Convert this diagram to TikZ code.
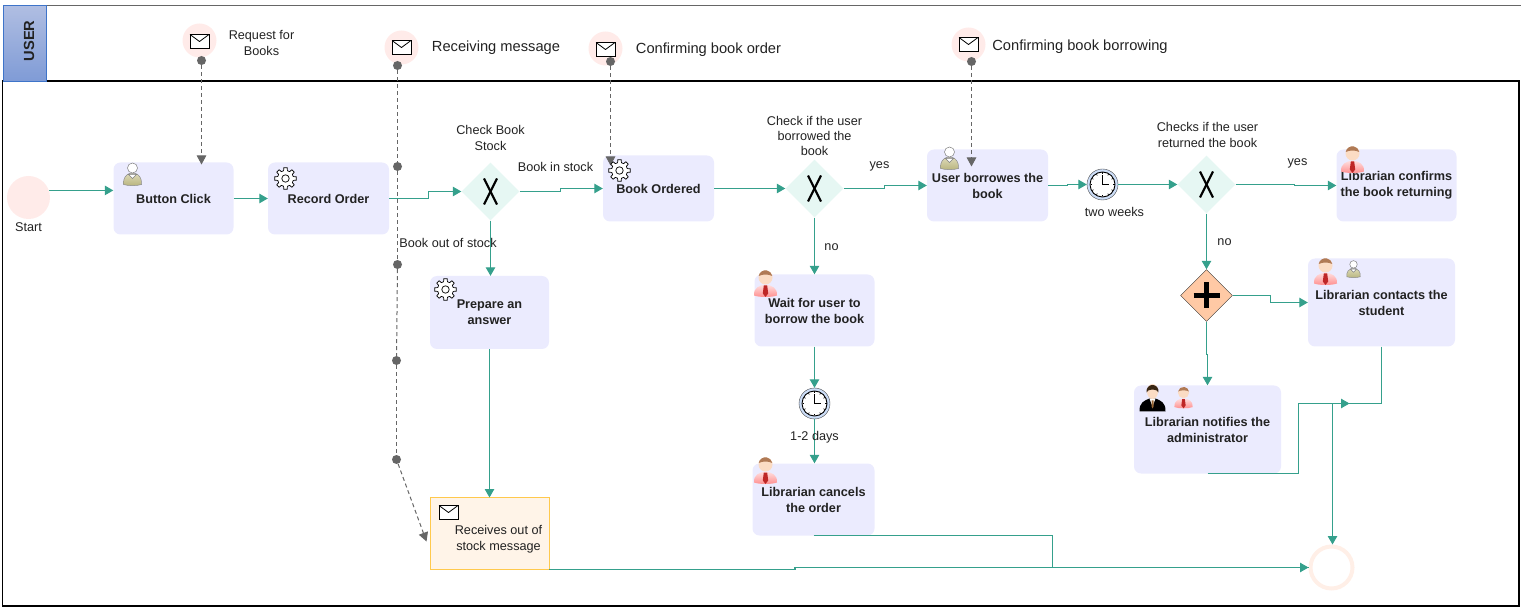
\documentclass[tikz,border=0pt]{standalone}
\usepackage{fontspec}
\setmainfont{Liberation Sans}
\usetikzlibrary{arrows.meta}
\usetikzlibrary{shapes.geometric}

\definecolor{flowc}{HTML}{35A08C}
\definecolor{msgc}{HTML}{666666}
\definecolor{taskc}{HTML}{EBEBFE}
\definecolor{eventc}{HTML}{FFEBE9}
\definecolor{gatec}{HTML}{E6F7F3}
\definecolor{plusc}{HTML}{FFC9A5}
\definecolor{textc}{HTML}{222222}
\definecolor{finishc}{HTML}{FFEFE7}
\definecolor{mailc}{HTML}{FFF4E8}
\definecolor{mailedge}{HTML}{FFC94D}
\definecolor{pooltop}{HTML}{B0BEE2}
\definecolor{poolbot}{HTML}{7F9BD6}
\definecolor{pooledge}{HTML}{3E74C9}
\definecolor{ringc}{HTML}{CCDDF7}
\definecolor{hairc}{HTML}{B07A55}
\definecolor{skinc}{HTML}{FBDCC4}
\definecolor{olivetop}{HTML}{DDDAB8}
\definecolor{olivebot}{HTML}{B8B47E}

\tikzset{
  task/.style={rectangle,fill=taskc,rounded corners=7pt,inner sep=0pt,align=center,text=textc,
    font=\fontsize{12.67}{16}\selectfont\bfseries},
  msgtask/.style={rectangle,draw=mailedge,fill=mailc,inner sep=0pt,outer sep=0pt,line width=0.9pt},
  gate/.style={diamond,fill=gatec,aspect=1,inner sep=0pt,minimum width=58pt,minimum height=58pt},
  plusgate/.style={diamond,draw=black!80,fill=plusc,aspect=1,inner sep=0pt,minimum width=52pt,minimum height=52pt},
  lbl/.style={align=center,inner sep=0pt,text=textc,font=\fontsize{12.67}{16}\selectfont},
  biglbl/.style={inner sep=0pt,text=textc,font=\fontsize{14.67}{18}\selectfont},
  evt/.style={circle,fill=eventc,inner sep=0pt,minimum size=34pt},
  dot/.style={circle,fill=msgc,inner sep=0pt,minimum size=9pt},
  timer/.style={circle,draw=black!70,fill=ringc,inner sep=0pt,minimum size=31pt},
  flow/.style={color=flowc,line width=1.1pt,-{Triangle[length=8.5pt,width=9.5pt]}},
  plainflow/.style={color=flowc,line width=1.1pt},
  msgflow/.style={color=msgc,line width=1pt,dash pattern=on 4pt off 3pt,
    -{Triangle[length=9pt,width=9.5pt]}},
  msgline/.style={color=msgc,line width=1pt,dash pattern=on 4pt off 3pt},
  mail/.pic={
    \draw [fill=white,line width=0.8pt] (-9.5,-7) rectangle (9.5,7);
    \draw [line width=0.8pt] (-9.5,-7) -- (0,0) -- (9.5,-7);
  },
  cog/.pic={
    \draw [fill=white,line width=0.7pt] (-9:10.8)
      \foreach \a in {0,45,...,315} { -- ({\a-9}:10.8) -- ({\a+9}:10.8) -- ({\a+14}:8) -- ({\a+31}:8) } -- cycle;
    \draw [fill=white,line width=0.7pt] (0,0) circle (3.7);
  },
  clockface/.pic={
    \draw [fill=white,line width=0.9pt] (0,0) circle (12.5);
    \foreach \a in {0,30,...,330} \draw [line width=0.6pt] (\a:12) -- (\a:10.5);
    \draw [line width=0.8pt] (0,-9) -- (0,0) -- (6,0);
  },
  usr/.pic={
    \draw [draw=black!45,top color=olivetop,bottom color=olivebot,line width=0.5pt]
      (-9,11) .. controls (-9.5,4) and (-6,1) .. (-3,0) -- (3,0) .. controls (6,1) and (9.5,4) .. (9,11) .. controls (4,12.5) and (-4,12.5) .. (-9,11) -- cycle;
    \draw [draw=black!50,fill=white,line width=0.5pt] (-4,1) -- (0,5) -- (4,1) -- cycle;
    \draw [draw=black!50,fill=white,line width=0.5pt] (0,-5.5) circle (5);
  },
  libr/.pic={
    \shade [top color=red!12,bottom color=red!45]
      (-11.5,12) .. controls (-12,4) and (-6,2) .. (0,1) .. controls (6,2) and (12,4) .. (11.5,12) .. controls (6,14) and (-6,14) .. (-11.5,12) -- cycle;
    \fill [red!70!black!85] (-1.7,2) -- (1.7,2) -- (2.7,10) -- (0,13.5) -- (-2.7,10) -- cycle;
    \fill [skinc] (0,-6) circle (7);
    \fill [hairc] (-6.8,-7.5) arc (190:350:6.9) .. controls (3,-9.5) and (-3,-9.5) .. (-6.8,-7.5) -- cycle;
  },
  boss/.pic={
    \fill [black] (-13,14) .. controls (-13.5,5) and (-8,3) .. (-3,1) -- (3,1) .. controls (8,3) and (13.5,5) .. (13,14) -- cycle;
    \fill [white] (-3,1) -- (0,9) -- (3,1) -- cycle;
    \fill [brown!80!black] (-1,3) -- (1,3) -- (1,9) -- (0,11) -- (-1,9) -- cycle;
    \fill [skinc] (0,-6) ellipse (5.5 and 7.5);
    \fill [black!70!brown] (-6,-5) .. controls (-7,-15) and (7,-15) .. (6,-5) .. controls (5,-9) and (-5,-9) .. (-6,-5) -- cycle;
  },
  xmark/.pic={
    \draw [line width=2.2pt] (-6.5,-13) -- (6.5,13);
    \draw [line width=2.2pt] (6.5,-13) -- (-6.5,13);
  },
  plusmark/.pic={
    \draw [line width=4.6pt] (-13,0) -- (13,0);
    \draw [line width=4.6pt] (0,-13) -- (0,13);
  }
}

\begin{document}
\begin{tikzpicture}[x=1pt,y=-1pt]

  \useasboundingbox (0,0) rectangle (1521,609);

  \draw [draw=black,line width=1.8pt] (2.5,81) rectangle (1519,606);
  \draw [draw=msgc,line width=0.8pt] (3,5.5) -- (1521,5.5);
  \node [rectangle,draw=pooledge,top color=pooltop,bottom color=poolbot,line width=0.8pt,
    minimum width=43pt,minimum height=76pt,inner sep=0pt] (pool_user) at (24.5,43.5) {};
  \node [inner sep=0pt,rotate=90,font=\fontsize{14.67}{16}\selectfont\bfseries,text=textc] (txt_user) at (29,41) {USER};

  \begin{scope}[shift={(0.5,0.5)}]

  \node [evt,minimum size=43pt] (start) at (28,197) {};
  \node [task,minimum width=120pt,minimum height=72pt] (task_button) at (173,198) {Button Click};
  \node [task,minimum width=121pt,minimum height=72pt] (task_record) at (328,198) {Record Order};
  \node [gate] (gate_stock) at (490,191) {};
  \node [task,minimum width=111pt,minimum height=66pt] (task_ordered) at (658,188) {Book Ordered};
  \node [task,minimum width=119pt,minimum height=73pt] (task_prepare) at (489,312) {Prepare an\\answer};
  \node [msgtask,minimum width=119pt,minimum height=72pt] (task_receive) at (489,533) {};
  \node [gate] (gate_borrow) at (814,188) {};
  \node [task,minimum width=121pt,minimum height=72pt] (task_borrows) at (987,185) {User borrowes the\\book};
  \node [task,minimum width=120pt,minimum height=72pt] (task_wait) at (814,310) {Wait for user to\\borrow the book};
  \node [timer] (timer_days) at (814,403) {};
  \node [task,minimum width=122pt,minimum height=72pt] (task_cancel) at (813,499) {Librarian cancels\\the order};
  \node [timer] (timer_weeks) at (1102,184) {};
  \node [gate] (gate_return) at (1206,184) {};
  \node [plusgate] (gate_plus) at (1206,295) {};
  \node [task,minimum width=120pt,minimum height=72pt] (task_confirm) at (1396,185) {Librarian confirms\\the book returning};
  \node [task,minimum width=147pt,minimum height=88pt] (task_contact) at (1381,302) {Librarian contacts the\\student};
  \node [task,minimum width=147pt,minimum height=88pt] (task_notify) at (1207,429) {Librarian notifies the\\administrator};
  \node [circle,draw=finishc,fill=white,line width=4pt,inner sep=0pt,minimum size=42pt] (finish) at (1331,567) {};

  \node [evt] (msg_request) at (199,40) {};
  \node [evt] (msg_receive) at (401,47) {};
  \node [evt] (msg_confirm) at (605,48) {};
  \node [evt] (msg_borrow) at (968,44) {};
  \node [dot] (dot_request) at (201,60) {};
  \node [dot] (dot_receive) at (397,65) {};
  \node [dot] (dot_pass_a) at (397,166) {};
  \node [dot] (dot_pass_b) at (397,264) {};
  \node [dot] (dot_pass_c) at (396,360) {};
  \node [dot] (dot_pass_d) at (396,459) {};
  \node [dot] (dot_confirm) at (610,61) {};
  \node [dot] (dot_borrow) at (971,61) {};

  \coordinate (in_button) at (201,164);
  \coordinate (in_receive) at (426,541);
  \coordinate (in_ordered) at (610,165);
  \coordinate (in_borrows) at (971,166);
  \coordinate (merge_a) at (1349,403);
  \coordinate (merge_b) at (1332,403);

  \path
    (dot_request) edge [msgflow] (in_button)
    (dot_pass_d)  edge [msgflow] (in_receive)
    (dot_confirm) edge [msgflow] (in_ordered)
    (dot_borrow)  edge [msgflow] (in_borrows)
    (dot_receive) edge [msgline] (dot_pass_a)
    (dot_pass_a)  edge [msgline] (dot_pass_b)
    (dot_pass_b)  edge [msgline] (dot_pass_c)
    (dot_pass_c)  edge [msgline] (dot_pass_d);

  \path
    (start.19)           edge [flow] (start.19 -| task_button.west)
    (task_button)        edge [flow] (task_record)
    (gate_stock.south)   edge [flow] (gate_stock.south |- task_prepare.north)
    (task_prepare.south) edge [flow] (task_receive.north)
    (task_ordered)       edge [flow] (gate_borrow)
    (gate_borrow.south)  edge [flow] (task_wait.north)
    (task_wait.south)    edge [flow] (timer_days.north)
    (timer_days.south)   edge [flow] (task_cancel.north -| timer_days.south)
    (timer_weeks)        edge [flow] (gate_return)
    (gate_return.south)  edge [flow] (gate_plus.north)
    (merge_b)            edge [flow] (merge_b |- finish.north);

  \draw [flow] (task_record.east) -- ++(39,0) |- (gate_stock.west);
  \draw [flow] (gate_stock.east) -- ++(41,0) |- (task_ordered.west);
  \draw [flow] (gate_borrow.east) -- ++(41,0) |- (task_borrows.west);
  \draw [flow] (task_borrows.east) -- ++(19,0) |- (timer_weeks.west);
  \draw [flow] (gate_return.east) -- ++(59,0) |- (task_confirm.west);
  \draw [flow] (gate_plus.east) -- ++(38,0) |- (task_contact.west);
  \draw [flow] (gate_plus.south) -- ++(0,33) -| (task_notify.north);
  \draw [flow] (task_notify.south) -- ++(91,0) |- (merge_a);
  \draw [plainflow] (task_contact.south) |- (merge_b);
  \draw [plainflow] (task_cancel.south) -- ++(239,0) |- (finish.west);
  \draw [flow] (task_receive.south east) -- ++(246,0) |- (finish.west);

  \node [lbl] (txt_request) at (261,42) {Request for\\Books};
  \node [biglbl] (txt_receiving) at (495.5,47) {Receiving message};
  \node [biglbl] (txt_confirming) at (708,49) {Confirming book order};
  \node [biglbl] (txt_borrowing) at (1079.5,46) {Confirming book borrowing};
  \node [lbl] (txt_start) at (28,227) {Start};
  \node [lbl] (txt_stock) at (490,137) {Check Book\\Stock};
  \node [lbl] (txt_instock) at (555,166) {Book in stock};
  \node [lbl] (txt_outstock) at (447.5,242) {Book out of stock};
  \node [lbl,font=\fontsize{12.67}{15}\selectfont] (txt_borrowed) at (814,135) {Check if the user\\borrowed the\\book};
  \node [lbl] (txt_yes_a) at (879,166) {yes};
  \node [lbl] (txt_no_a) at (831,246.5) {no};
  \node [lbl] (txt_days) at (814,436.5) {1-2 days};
  \node [lbl] (txt_weeks) at (1114,211) {two weeks};
  \node [lbl] (txt_returned) at (1207,134) {Checks if the user\\returned the book};
  \node [lbl] (txt_yes_b) at (1297,163) {yes};
  \node [lbl] (txt_no_b) at (1224,242) {no};
  \node [lbl] (txt_rcv) at (498,538.5) {Receives out of\\stock message};

  \pic at (199,41) {mail};
  \pic at (401,47) {mail};
  \pic at (605,49) {mail};
  \pic at (968,44) {mail};
  \pic at (448,512) {mail};
  \pic at (gate_stock) {xmark};
  \pic at (gate_borrow) {xmark};
  \pic at (gate_return) {xmark};
  \pic at (gate_plus) {plusmark};
  \pic at (timer_days) {clockface};
  \pic at (timer_weeks) {clockface};
  \pic at (285,178) {cog};
  \pic at (445,289) {cog};
  \pic at (619,170) {cog};
  \pic at (132,173) {usr};
  \pic at (949,157) {usr};
  \pic [scale=0.75] at (1353,268) {usr};
  \pic at (765,283) {libr};
  \pic at (765,470) {libr};
  \pic at (1352,159) {libr};
  \pic at (1325,271) {libr};
  \pic [scale=0.8] at (1183,397) {libr};
  \pic at (1152,397) {boss};

  \end{scope}

\end{tikzpicture}
\end{document}
